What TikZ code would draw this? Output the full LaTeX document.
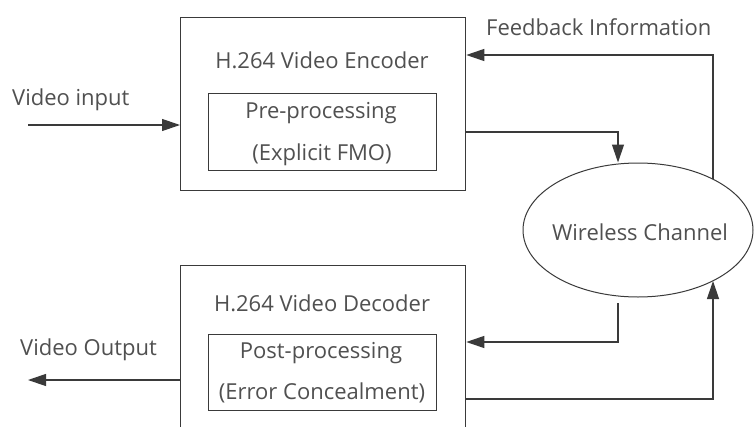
\documentclass[tikz,border=0pt]{standalone}
\usepackage{fontspec}
\setmainfont{Open Sans}
\usetikzlibrary{arrows.meta,shapes.geometric,calc}
\definecolor{ink}{HTML}{3A3A3A}
\definecolor{txt}{HTML}{505050}
\tikzset{
  block/.style={draw=ink, line width=1.3pt, rectangle, inner sep=0pt},
  lbl/.style={text=txt, font=\fontsize{22}{26}\selectfont, inner sep=0pt},
  arr/.style={draw=ink, line width=1.2pt, -{Triangle[length=18pt,width=12pt]}},
}
\begin{document}
\begin{tikzpicture}[x=1pt,y=-1pt]
  \clip (0,0) rectangle (755,426);
  \fill[white] (0,0) rectangle (755,426);

  % encoder
  \node[block, minimum width=285pt, minimum height=173pt, anchor=north west] (enc) at (180,17) {};
  \node[lbl] (enct) at (322,60) {H.264 Video Encoder};
  \node[block, line width=1.1pt, minimum width=228pt, minimum height=77pt, anchor=north west] (pre) at (208,93) {};
  \node[lbl] (pret) at (321,113) {Pre-processing};
  \node[lbl] (fmo) at (322,155) {(Explicit FMO)};

  % decoder (runs below the lower edge)
  \node[block, minimum width=285pt, minimum height=190pt, anchor=north west] (dec) at (180,265) {};
  \node[lbl] (dect) at (322,303) {H.264 Video Decoder};
  \node[block, line width=1.1pt, minimum width=228pt, minimum height=76pt, anchor=north west] (post) at (208,334) {};
  \node[lbl] (postt) at (321,353) {Post-processing};
  \node[lbl] (conc) at (322,393) {(Error Concealment)};

  % channel
  \node[draw=ink, line width=1pt, ellipse, minimum width=230pt, minimum height=134pt, inner sep=0pt] (ch) at (638,230) {};
  \node[lbl] (cht) at (640,232) {Wireless Channel};

  % outer labels
  \node[lbl, anchor=west] (vin) at (12,100) {Video input};
  \node[lbl, anchor=west] (vout) at (20,350) {Video Output};
  \node[lbl, anchor=west] (fb) at (486,27) {Feedback Information};

  % connectors
  \coordinate (inS) at (28,125);
  \coordinate (outE) at (28,380);
  \draw[arr] (inS) -- (inS -| enc.west);
  \draw[arr] (enc.west |- outE) -- (outE);

  \coordinate (encOut) at (enc.east |- 0,132);
  \draw[arr] (encOut) -| (ch.north -| 618,0);

  \path (ch.center) ++(75,-51) coordinate (fbA);
  \draw[arr] (fbA) |- (enc.east |- 0,55);

  \coordinate (chOut) at (618,303);
  \draw[arr] (chOut) |- (dec.east |- 0,342);

  \coordinate (decOut) at (dec.east |- 0,399);
  \path (ch.center) ++(75,51) coordinate (fbB);
  \draw[arr] (decOut) -| (fbB);
\end{tikzpicture}
\end{document}
